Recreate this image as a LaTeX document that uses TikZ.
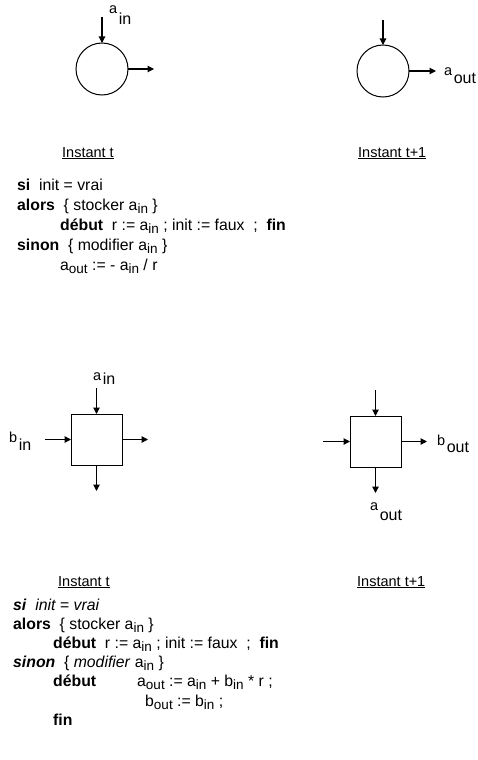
\documentclass[tikz,border=0pt]{standalone}
\usepackage{fontspec}
\setmainfont{Liberation Sans}
\usetikzlibrary{arrows.meta}
\newcommand{\sbi}[1]{\raisebox{-0.25em}{\fontsize{13.5}{13.5}\selectfont #1}}
\newcommand{\lab}[3]{{\fontsize{14.5}{14.5}\selectfont #1}\hspace{1.5pt}\raisebox{-#3pt}{\fontsize{16}{16}\selectfont #2}}
\begin{document}
\begin{tikzpicture}[x=1pt,y=-1pt,
  conn/.style={-{Triangle[length=6.5pt,width=6.5pt]}, line width=1.1pt},
  shp/.style={draw, line width=1pt, inner sep=0pt, outer sep=0pt},
  txt/.style={anchor=base west, inner sep=0pt, font=\fontsize{15.8}{15.8}\selectfont},
  lbl/.style={anchor=base west, inner sep=0pt},
  inst/.style={anchor=base west, inner sep=0pt, font=\fontsize{14.5}{14.5}\selectfont}]
\useasboundingbox (0,0) rectangle (478,760);

% ---- top: circles ----
\node[shp, circle, minimum size=52pt] (c1) at (102,69) {};
\coordinate (c1in) at (102,17);
\coordinate (c1out) at (154,69);
\draw[conn] (c1in) -- (c1.north);
\draw[conn] (c1.east) -- (c1out);
\node[lbl] (la1) at (109,14) {\lab{a}{in}{11}};

\node[shp, circle, minimum size=52pt] (c2) at (383,71) {};
\coordinate (c2in) at (383,20);
\coordinate (c2out) at (436,71);
\draw[conn] (c2in) -- (c2.north);
\draw[conn] (c2.east) -- (c2out);
\node[lbl] (la2) at (444,75) {\lab{a}{out}{8}};

\node[inst] (i1) at (62,157) {\underline{Instant t}};
\node[inst] (i2) at (358,157) {\underline{Instant t+1}};

% ---- text block 1 ----
\node[txt] (t1) at (17,190) {\textbf{si}\ \ init = vrai};
\node[txt] (t2) at (17,210) {\textbf{alors}\ \ \{ stocker a\sbi{in} \}};
\node[txt] (t3) at (60,230) {\textbf{début}\ \ r := a\sbi{in} ; init := faux\ \ ;\ \ \textbf{fin}};
\node[txt] (t4) at (17,250) {\textbf{sinon}\ \ \{ modifier a\sbi{in} \}};
\node[txt] (t5) at (60,270) {a\sbi{out} := - a\sbi{in} / r};

% ---- middle: squares ----
\node[shp, rectangle, minimum size=51pt] (s1) at (96.5,439.5) {};
\coordinate (s1in) at (96.5,388);
\coordinate (s1left) at (45,439.5);
\coordinate (s1right) at (148,439.5);
\coordinate (s1down) at (96.5,491);
\draw[conn] (s1in) -- (s1.north);
\draw[conn] (s1left) -- (s1.west);
\draw[conn] (s1.east) -- (s1right);
\draw[conn] (s1.south) -- (s1down);
\node[lbl] (la3) at (93,380) {\lab{a}{in}{4}};
\node[lbl] (lb1) at (9,442) {\lab{b}{in}{8}};

\node[shp, rectangle, minimum size=51pt] (s2) at (375.5,441.5) {};
\coordinate (s2in) at (375.5,390);
\coordinate (s2left) at (323,441.5);
\coordinate (s2right) at (427,441.5);
\coordinate (s2down) at (375.5,493);
\draw[conn] (s2in) -- (s2.north);
\draw[conn] (s2left) -- (s2.west);
\draw[conn] (s2.east) -- (s2right);
\draw[conn] (s2.south) -- (s2down);
\node[lbl] (lb2) at (437,445) {\lab{b}{out}{7}};
\node[lbl] (la4) at (370,510) {\lab{a}{out}{10}};

\node[inst] (i3) at (58,586) {\underline{Instant t}};
\node[inst] (i4) at (357,586) {\underline{Instant t+1}};

% ---- text block 2 ----
\node[txt] (u1) at (13,610) {\textbf{\textit{si}}\ \ \textit{init = vrai}};
\node[txt] (u2) at (13,629) {\textbf{alors}\ \ \{ stocker a\sbi{in} \}};
\node[txt] (u3) at (53,648) {\textbf{début}\ \ r := a\sbi{in} ; init := faux\ \ ;\ \ \textbf{fin}};
\node[txt] (u4) at (13,667) {\textbf{\textit{sinon}}\ \ \{ \textit{modifier} a\sbi{in} \}};
\node[txt] (u5) at (53,686) {\textbf{début}};
\node[txt] (u6) at (137,686) {a\sbi{out} := a\sbi{in} + b\sbi{in} * r ;};
\node[txt] (u7) at (145,706) {b\sbi{out} := b\sbi{in} ;};
\node[txt] (u8) at (53,725) {\textbf{fin}};
\end{tikzpicture}
\end{document}
